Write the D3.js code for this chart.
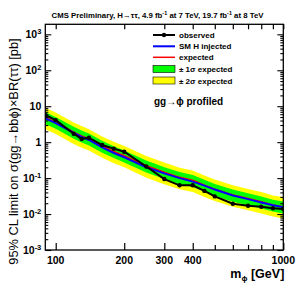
<!DOCTYPE html>
<html><head><meta charset="utf-8">
<script src="https://cdn.jsdelivr.net/npm/d3@7"></script>
<style>body{margin:0;background:#fff}svg{display:block;font-family:"Liberation Sans",Arial,sans-serif}</style>
</head><body><svg id="c" width="299" height="288"></svg>
<script>
const mass = [90,100,120,130,140,160,180,200,250,300,350,400,450,500,600,700,800,900,1000];
const observed = [5.7,4.1,1.72,1.22,1.33,0.83,0.66,0.54,0.21,0.094,0.063,0.063,0.044,0.031,0.0194,0.0171,0.016,0.0145,0.0138];
const smInjected = [4.6,3.4,1.8,1.4,1.15,0.72,0.5,0.38,0.2,0.135,0.1,0.08,0.062,0.048,0.033,0.026,0.021,0.0175,0.0155];
const expected = [4.9,3.6,1.9,1.5,1.25,0.78,0.55,0.42,0.22,0.145,0.105,0.088,0.064,0.049,0.034,0.027,0.022,0.018,0.016];
const minus2 = [2.3,1.7,0.89,0.7,0.59,0.37,0.26,0.2,0.103,0.068,0.049,0.041,0.03,0.023,0.016,0.0127,0.0103,0.0085,0.0075];
const minus1 = [3.2,2.35,1.24,0.98,0.81,0.51,0.36,0.27,0.143,0.094,0.068,0.057,0.042,0.032,0.022,0.0176,0.0143,0.0117,0.0104];
const plus1 = [6.9,5.0,2.7,2.1,1.75,1.09,0.77,0.59,0.31,0.2,0.147,0.123,0.09,0.069,0.048,0.038,0.031,0.025,0.0224];
const plus2 = [9.1,6.7,3.5,2.8,2.3,1.44,1.02,0.78,0.41,0.27,0.194,0.163,0.118,0.091,0.063,0.05,0.041,0.033,0.03];
const xTickValues = [100,200,300,400,500,600,700,800,900,1000];
const xTickLabels = {100:"100",200:"200",300:"300",400:"400",1000:"1000"};
const yMajor = [1e-3,1e-2,1e-1,1,10,100,1000];
const yMajorLabels = [["10","-3"],["10","-2"],["10","-1"],["1",""],["10",""],["10","2"],["10","3"]];

const L=45.3,R=283.3,T=24.3,B=250;
const svg=d3.select("#c");
const x=d3.scaleLog().domain([90,1000]).range([L,R]);
const y=d3.scaleLog().domain([1e-3,1900]).range([B,T]);
const rows=mass.map((m,i)=>({m,o:observed[i],s:smInjected[i],e:expected[i],m2:minus2[i],m1:minus1[i],p1:plus1[i],p2:plus2[i]}));

svg.append("clipPath").attr("id","pc").append("rect").attr("x",L).attr("y",T).attr("width",R-L).attr("height",B-T);
const g=svg.append("g").attr("clip-path","url(#pc)");
g.append("path").datum(rows).attr("fill","#ffff00")
 .attr("d",d3.area().x(d=>x(d.m)).y0(d=>y(d.m2)).y1(d=>y(d.p2)));
g.append("path").datum(rows).attr("fill","#00ff00")
 .attr("d",d3.area().x(d=>x(d.m)).y0(d=>y(d.m1)).y1(d=>y(d.p1)));
g.append("path").datum(rows).attr("fill","none").attr("stroke","#ff0000").attr("stroke-width",1.5)
 .attr("d",d3.line().x(d=>x(d.m)).y(d=>y(d.e)));
g.append("path").datum(rows).attr("fill","none").attr("stroke","#0000ff").attr("stroke-width",2)
 .attr("d",d3.line().x(d=>x(d.m)).y(d=>y(d.s)));
g.append("path").datum(rows).attr("fill","none").attr("stroke","#000").attr("stroke-width",2)
 .attr("d",d3.line().x(d=>x(d.m)).y(d=>y(d.o)));
g.selectAll("circle.o").data(rows).join("circle").attr("cx",d=>x(d.m)).attr("cy",d=>y(d.o)).attr("r",2.2).attr("fill","#000");

svg.append("rect").attr("x",L).attr("y",T).attr("width",R-L).attr("height",B-T).attr("fill","none").attr("stroke","#000").attr("stroke-width",1.3);

const xb=svg.append("g").attr("transform",`translate(0,${B})`).call(d3.axisBottom(x).tickValues(xTickValues).tickSize(-7).tickFormat(""));
const xt=svg.append("g").attr("transform",`translate(0,${T})`).call(d3.axisTop(x).tickValues(xTickValues).tickSize(-5).tickFormat(""));
[xb,xt].forEach(a=>{a.select(".domain").remove();a.selectAll("line").attr("stroke-width",1.2);});
xb.selectAll(".tick").filter(d=>!xTickLabels[d]).select("line").attr("y2",-5);
svg.selectAll("text.xl").data(xTickValues.filter(v=>xTickLabels[v])).join("text")
 .attr("x",d=>x(d)).attr("y",B+14).attr("text-anchor","middle")
 .attr("font-size",10.5).attr("font-weight","bold").text(d=>xTickLabels[d]);

const yMinor=[];
for(let e=-3;e<=3;e++){for(let k=2;k<=9;k++){const v=k*Math.pow(10,e);if(v<=1900)yMinor.push(v);}}
const yl=svg.append("g").attr("transform",`translate(${L},0)`).call(d3.axisLeft(y).tickValues(yMajor).tickSize(-6).tickFormat(""));
const yl2=svg.append("g").attr("transform",`translate(${L},0)`).call(d3.axisLeft(y).tickValues(yMinor).tickSize(-3).tickFormat(""));
const yr=svg.append("g").attr("transform",`translate(${R},0)`).call(d3.axisRight(y).tickValues(yMajor).tickSize(-6).tickFormat(""));
const yr2=svg.append("g").attr("transform",`translate(${R},0)`).call(d3.axisRight(y).tickValues(yMinor).tickSize(-3).tickFormat(""));
[yl,yl2,yr,yr2].forEach(a=>{a.select(".domain").remove();a.selectAll("line").attr("stroke-width",1.1);});

const ylab=svg.selectAll("text.yl").data(yMajor).join("text").attr("x",L-4).attr("y",d=>y(d)+4)
 .attr("text-anchor","end").attr("font-size",10.5).attr("font-weight","bold");
ylab.each(function(d,i){const t=d3.select(this);const lb=yMajorLabels[i];
 t.append("tspan").text(lb[0]);
 if(lb[1]) t.append("tspan").attr("dy",-4).attr("font-size",7.5).text(lb[1]);});

svg.append("text").attr("x",R+1).attr("y",B+28).attr("text-anchor","end").attr("font-size",12.5).attr("font-weight","bold")
 .html('m<tspan dy="3" font-size="8">ϕ</tspan><tspan dy="-3"> [GeV]</tspan>');
svg.append("text").attr("transform",`translate(17.5,151.5) rotate(-90)`).attr("text-anchor","middle").attr("font-size",12.8)
 .text("95% CL limit on  σ(gg→bbϕ)×BR(ττ) [pb]");

svg.append("text").attr("x",157.5).attr("y",18).attr("text-anchor","middle").attr("font-size",7.8).attr("font-weight","bold")
 .html('CMS Preliminary,  H→ττ,  4.9 fb<tspan dy="-3" font-size="5.5">-1</tspan><tspan dy="3"> at 7 TeV, 19.7 fb</tspan><tspan dy="-3" font-size="5.5">-1</tspan><tspan dy="3"> at 8 TeV</tspan>');

const lx0=153,lx1=175,tx=179;
const legRows=[35,46.3,57.3,69,80.5];
const lg=svg.append("g");
lg.append("line").attr("x1",lx0).attr("x2",lx1).attr("y1",legRows[0]).attr("y2",legRows[0]).attr("stroke","#000").attr("stroke-width",2);
lg.append("circle").attr("cx",(lx0+lx1)/2).attr("cy",legRows[0]).attr("r",2.2);
lg.append("line").attr("x1",lx0).attr("x2",lx1).attr("y1",legRows[1]).attr("y2",legRows[1]).attr("stroke","#0000ff").attr("stroke-width",2);
lg.append("line").attr("x1",lx0).attr("x2",lx1).attr("y1",legRows[2]).attr("y2",legRows[2]).attr("stroke","#ff0000").attr("stroke-width",1.5);
lg.append("rect").attr("x",lx0).attr("y",legRows[3]-3.5).attr("width",lx1-lx0).attr("height",7).attr("fill","#00ff00").attr("stroke","#000").attr("stroke-width",0.6);
lg.append("rect").attr("x",lx0).attr("y",legRows[4]-3.5).attr("width",lx1-lx0).attr("height",7).attr("fill","#ffff00").attr("stroke","#000").attr("stroke-width",0.6);
const legTexts=["observed","SM H injected","expected","± 1σ expected","± 2σ expected"];
lg.selectAll("text").data(legTexts).join("text").attr("x",tx).attr("y",(d,i)=>legRows[i]+3)
 .attr("font-size",8).attr("font-weight","bold").text(d=>d);
svg.append("text").attr("x",154).attr("y",104.5).attr("font-size",10).attr("font-weight","bold").text("gg→ϕ profiled");
</script></body></html>
